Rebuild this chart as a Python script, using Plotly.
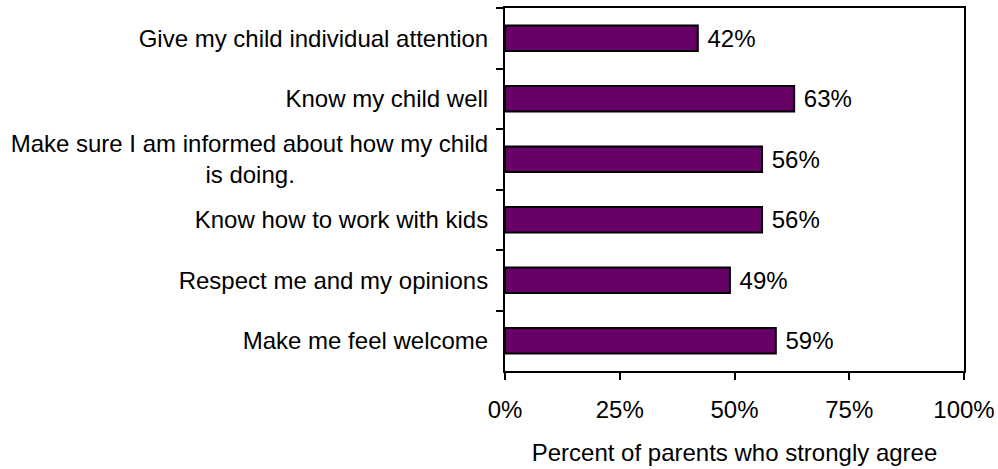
import plotly.graph_objects as go

# Survey items, listed top to bottom as they appear on the chart
statements = [
    "Give my child individual attention",
    "Know my child well",
    "Make sure I am informed about how my child<br>is doing." + "\u00a0" * 29,
    "Know how to work with kids",
    "Respect me and my opinions",
    "Make me feel welcome",
]
pct_strongly_agree = [42, 63, 56, 56, 49, 59]

x_tick_vals = [0, 25, 50, 75, 100]
x_tick_text = ["0%", "25%", "50%", "75%", "100%"]

FONT = dict(family="Liberation Sans, Arial, sans-serif", size=24, color="black")

fig = go.Figure(
    go.Bar(
        x=pct_strongly_agree,
        y=statements,
        orientation="h",
        marker=dict(color="#660066", line=dict(color="black", width=2)),
        text=["\u00a0" + f"{v}%" for v in pct_strongly_agree],
        textposition="outside",
        constraintext="none",
        textfont=FONT,
        cliponaxis=False,
    )
)

fig.update_layout(
    width=998,
    height=469,
    margin=dict(l=505, r=34, t=8, b=98),
    paper_bgcolor="white",
    plot_bgcolor="white",
    font=FONT,
    bargap=0.58,
    showlegend=False,
)

fig.update_xaxes(
    range=[0, 100],
    tickvals=x_tick_vals,
    ticktext=x_tick_text,
    ticks="outside",
    ticklen=7,
    tickwidth=2,
    tickcolor="black",
    ticklabelstandoff=9,
    showline=True,
    linecolor="black",
    linewidth=2,
    mirror=True,
    showgrid=False,
    zeroline=False,
    automargin=False,
    tickfont=FONT,
    title=dict(text="Percent of parents who strongly agree", font=FONT, standoff=22),
)

fig.update_yaxes(
    autorange="reversed",
    ticks="outside",
    tickson="boundaries",
    ticklen=7,
    tickwidth=2,
    tickcolor="black",
    ticklabelstandoff=10,
    showline=True,
    linecolor="black",
    linewidth=2,
    mirror=True,
    showgrid=False,
    automargin=False,
    tickfont=FONT,
)

fig.write_html("out.html")
